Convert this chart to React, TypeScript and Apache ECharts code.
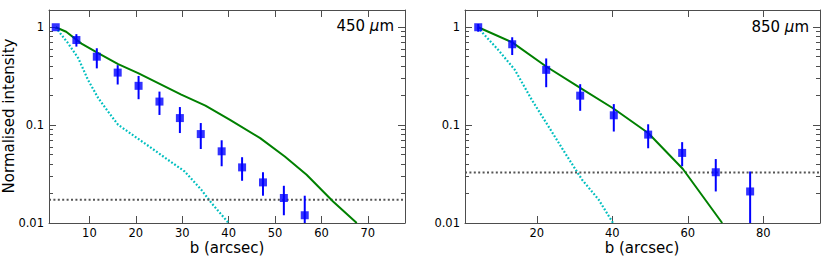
import React, { useEffect, useRef } from "react";
import * as echarts from "echarts";

// ---- 450 micron panel ----
const b450 = [2.75, 7.2, 11.6, 16.1, 20.6, 25.1, 29.5, 34.0, 38.5, 42.9, 47.4, 51.9, 56.4];
const I450 = [1.0, 0.74, 0.5, 0.344, 0.252, 0.174, 0.118, 0.081, 0.054, 0.037, 0.026, 0.018, 0.012];
const hi450 = [1.0, 0.85, 0.61, 0.41, 0.318, 0.22, 0.153, 0.105, 0.07, 0.047, 0.033, 0.024, 0.019];
const lo450 = [1.0, 0.634, 0.38, 0.26, 0.184, 0.127, 0.083, 0.057, 0.038, 0.027, 0.019, 0.012, 0.008];
const modelX450 = [2.75, 5, 8.3, 11.7, 16.2, 20.5, 29.8, 35.0, 40.3, 46.8, 52.1, 56.8, 62.5, 67.6];
const modelY450 = [1, 0.9, 0.68, 0.55, 0.42, 0.34, 0.205, 0.158, 0.113, 0.0736, 0.0478, 0.0311, 0.0166, 0.01];
const beamX450 = [2.7, 5.4, 7.6, 9.7, 11.9, 14.0, 16.2, 19.8, 23.4, 26.9, 30.5, 34.1, 36.3, 40.0];
const beamY450 = [1, 0.687, 0.483, 0.29, 0.189, 0.138, 0.1007, 0.0765, 0.0582, 0.0443, 0.0337, 0.0219, 0.016, 0.01];
const noise450 = 0.0173;
const xRange450 = [1.3, 78];
const xTicks450 = [10, 20, 30, 40, 50, 60, 70];

// ---- 850 micron panel ----
const b850 = [4.5, 13.5, 22.5, 31.5, 40.4, 49.5, 58.5, 67.4, 76.5];
const I850 = [1.0, 0.67, 0.367, 0.2, 0.126, 0.08, 0.052, 0.033, 0.021];
const hi850 = [1.08, 0.79, 0.48, 0.262, 0.164, 0.102, 0.067, 0.045, 0.0336];
const lo850 = [0.9, 0.52, 0.244, 0.14, 0.086, 0.058, 0.038, 0.021, 0.005];
const modelX850 = [4.5, 13.5, 22.5, 31.5, 40.4, 49.5, 58.7, 69.1];
const modelY850 = [1, 0.7, 0.397, 0.24, 0.147, 0.083, 0.0356, 0.01];
const beamX850 = [4.3, 9.8, 14.2, 18.7, 23.1, 27.5, 32.0, 36.4, 40.2];
const beamY850 = [1, 0.587, 0.367, 0.181, 0.097, 0.0518, 0.0277, 0.0173, 0.01];
const noise850 = 0.0329;
const xRange850 = [1, 95];
const xTicks850 = [20, 40, 60, 80];

// ---- shared y axis ----
const yRange = [0.01, 1.5];
const yMajor = [0.01, 0.1, 1];
const yMinor = [0.02, 0.03, 0.04, 0.05, 0.06, 0.07, 0.08, 0.09, 0.2, 0.3, 0.4, 0.5, 0.6, 0.7, 0.8, 0.9];

const FONT = "DejaVu Sans";
const FRAME = "#4d4d4d";

export default function App() {
  const ref = useRef<HTMLDivElement>(null);
  useEffect(() => {
    if (!ref.current) return;
    const chart = echarts.init(ref.current, null, { renderer: "svg" });

    const grids = [
      { left: 49, top: 10, width: 356, height: 213 },
      { left: 465, top: 10, width: 355, height: 213 },
    ];

    const mkX = (gi: number, range: number[], ticks: number[], pos: string, labels: boolean) => ({
      type: "value",
      gridIndex: gi,
      position: pos,
      min: range[0],
      max: range[1],
      splitLine: { show: false },
      axisLine: { show: true, onZero: false, lineStyle: { color: FRAME, width: 1 } },
      axisTick: { show: true, inside: true, length: 7, customValues: ticks, lineStyle: { color: FRAME, width: 1 } },
      axisLabel: {
        show: labels,
        customValues: ticks,
        margin: 4,
        color: "#000",
        fontFamily: FONT,
        fontSize: 11.5,
      },
    });

    const mkY = (gi: number, pos: string, values: number[], len: number, labels: boolean, line: boolean) => ({
      type: "log",
      logBase: 10,
      gridIndex: gi,
      position: pos,
      offset: 0,
      min: yRange[0],
      max: yRange[1],
      splitLine: { show: false },
      axisLine: { show: line, onZero: false, lineStyle: { color: FRAME, width: 1 } },
      axisTick: { show: true, inside: true, length: len, customValues: values, lineStyle: { color: FRAME, width: 1 } },
      axisLabel: {
        show: labels,
        customValues: values,
        margin: 5,
        color: "#000",
        fontFamily: FONT,
        fontSize: 11.5,
        formatter: (v: number) => String(Number(Number(v).toPrecision(3))),
      },
    });

    const xAxis = [
      mkX(0, xRange450, xTicks450, "bottom", true),
      mkX(0, xRange450, xTicks450, "top", false),
      mkX(1, xRange850, xTicks850, "bottom", true),
      mkX(1, xRange850, xTicks850, "top", false),
    ];
    const yAxis = [
      mkY(0, "left", yMajor, 7, true, true),
      mkY(0, "left", yMinor, 4, false, false),
      mkY(0, "right", yMajor, 7, false, true),
      mkY(0, "right", yMinor, 4, false, false),
      mkY(1, "left", yMajor, 7, true, true),
      mkY(1, "left", yMinor, 4, false, false),
      mkY(1, "right", yMajor, 7, false, true),
      mkY(1, "right", yMinor, 4, false, false),
    ];

    const panel = (
      xi: number,
      yi: number,
      bx: number[],
      iv: number[],
      lo: number[],
      hi: number[],
      mx: number[],
      my: number[],
      cx: number[],
      cy: number[],
      noise: number,
      xr: number[]
    ) => [
      {
        type: "line",
        xAxisIndex: xi,
        yAxisIndex: yi,
        data: cx.map((x, i) => [x, cy[i]]),
        symbol: "none",
        lineStyle: { color: "#00bfbf", width: 2.2, type: [1.8, 1.9] },
        z: 2,
      },
      {
        type: "line",
        xAxisIndex: xi,
        yAxisIndex: yi,
        data: [
          [xr[0], noise],
          [xr[1], noise],
        ],
        symbol: "none",
        lineStyle: { color: "#555555", width: 2, type: [2, 2.4] },
        z: 2,
      },
      {
        type: "line",
        xAxisIndex: xi,
        yAxisIndex: yi,
        data: mx.map((x, i) => [x, my[i]]),
        symbol: "none",
        lineStyle: { color: "#008000", width: 2 },
        z: 3,
      },
      {
        type: "custom",
        xAxisIndex: xi,
        yAxisIndex: yi,
        clip: true,
        encode: { x: 0, y: [1, 2] },
        data: bx.map((x, i) => [x, lo[i], hi[i]]),
        renderItem: (params: any, api: any) => {
          const x = api.value(0);
          const p1 = api.coord([x, api.value(1)]);
          const p2 = api.coord([x, api.value(2)]);
          return {
            type: "line",
            shape: { x1: p1[0], y1: p1[1], x2: p2[0], y2: p2[1] },
            style: { stroke: "#0000ff", lineWidth: 2 },
          };
        },
        z: 4,
      },
      {
        type: "scatter",
        xAxisIndex: xi,
        yAxisIndex: yi,
        data: bx.map((x, i) => [x, iv[i]]),
        symbol: "rect",
        symbolSize: 8,
        itemStyle: { color: "#0000ff" },
        z: 5,
      },
    ];

    const series = [
      ...panel(0, 0, b450, I450, lo450, hi450, modelX450, modelY450, beamX450, beamY450, noise450, xRange450),
      ...panel(2, 4, b850, I850, lo850, hi850, modelX850, modelY850, beamX850, beamY850, noise850, xRange850),
    ];

    const textStyle = { fontFamily: FONT, fontSize: 15, fill: "#000" };
    const graphic = [
      {
        type: "text",
        x: 9,
        y: 116,
        rotation: Math.PI / 2,
        style: { ...textStyle, text: "Normalised intensity", align: "center", verticalAlign: "middle" },
      },
      {
        type: "text",
        x: 227,
        y: 248,
        style: { ...textStyle, text: "b (arcsec)", align: "center", verticalAlign: "middle" },
      },
      {
        type: "text",
        x: 642,
        y: 248,
        style: { ...textStyle, text: "b (arcsec)", align: "center", verticalAlign: "middle" },
      },
      {
        type: "text",
        x: 394,
        y: 26,
        style: {
          ...textStyle,
          text: "{n|450 }{i|μ}{n|m}",
          align: "right",
          verticalAlign: "middle",
          rich: {
            n: { fontFamily: FONT, fontSize: 15, fill: "#000" },
            i: { fontFamily: FONT, fontSize: 15, fontStyle: "italic", fill: "#000" },
          },
        },
      },
      {
        type: "text",
        x: 809,
        y: 27,
        style: {
          ...textStyle,
          text: "{n|850 }{i|μ}{n|m}",
          align: "right",
          verticalAlign: "middle",
          rich: {
            n: { fontFamily: FONT, fontSize: 15, fill: "#000" },
            i: { fontFamily: FONT, fontSize: 15, fontStyle: "italic", fill: "#000" },
          },
        },
      },
    ];

    chart.setOption({
      animation: false,
      backgroundColor: "#fff",
      grid: grids,
      xAxis,
      yAxis,
      series,
      graphic,
    });
    return () => chart.dispose();
  }, []);

  return (
    <div
      ref={ref}
      style={{ position: "fixed", left: 0, top: 0, width: 831, height: 266, background: "#fff" }}
    />
  );
}
